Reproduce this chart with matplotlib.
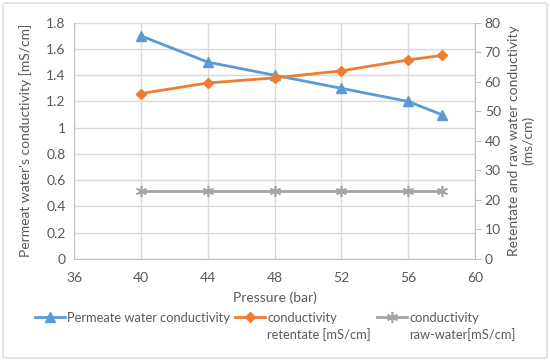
import numpy as np
import matplotlib.pyplot as plt
from matplotlib.patches import FancyBboxPatch

# data
pressure = [40, 44, 48, 52, 56, 58]
permeate = [1.7, 1.5, 1.4, 1.3, 1.2, 1.1]
retentate = [56.0, 59.6, 61.3, 63.7, 67.4, 68.9]
raw_water = [23.1, 23.1, 23.1, 23.1, 23.1, 23.1]

plt.rcParams['font.family'] = ['Lato', 'DejaVu Sans']
txt = '#595959'
grid = '#d9d9d9'
fs = 10
lfs = 9.3

fig = plt.figure(figsize=(5.5, 3.61), dpi=100)
ax = fig.add_axes([74/550, 1-259/361, (475-74)/550, (259-22.7)/361])
ax2 = ax.twinx()

l1, = ax.plot(pressure, permeate, color='#5b9bd5', lw=2, marker='^', ms=7,
              label='Permeate water conductivity')
l2, = ax2.plot(pressure, retentate, color='#ed7d31', lw=2, marker='D', ms=5,
               label='conductivity')
l3, = ax2.plot(pressure, raw_water, color='#a5a5a5', lw=2, marker=(6, 2, 0), ms=8,
               mew=1.2, label='conductivity')

ax.set_xlim(36, 60)
ax.set_xticks(range(36, 61, 4))
ax.set_ylim(0, 1.8)
ax.set_yticks(np.arange(0, 1.81, 0.2))
ax.set_yticklabels(['0', '0.2', '0.4', '0.6', '0.8', '1', '1.2', '1.4', '1.6', '1.8'])
ax2.set_ylim(0, 80)
ax2.set_yticks(range(0, 81, 10))

ax.grid(True, color=grid, lw=1)
ax.set_axisbelow(True)
for a in (ax, ax2):
    for s in a.spines.values():
        s.set_visible(False)
ax.spines['bottom'].set_visible(True)
ax.spines['bottom'].set_color('#bfbfbf')
ax.spines['left'].set_visible(True)
ax.spines['left'].set_color('#bfbfbf')
ax2.spines['right'].set_visible(True)
ax2.spines['right'].set_color('#bfbfbf')

ax.tick_params(axis='both', length=0, labelsize=fs, colors=txt, pad=6)
ax.tick_params(axis='x', pad=9)
ax2.tick_params(axis='y', length=4, color='#bfbfbf', labelsize=fs, colors=txt, pad=3)

ax.set_ylabel("Permeat water's conductivity [mS/cm]", fontsize=fs, color=txt, labelpad=10)
ax2.set_ylabel("Retentate and raw water conductivity\n(ms/cm)", fontsize=fs,
               color=txt, labelpad=5, linespacing=1.2)
ax2.yaxis.label.set_horizontalalignment('center')
ax.set_xlabel('Pressure (bar)', fontsize=fs, color=txt, labelpad=6)

# one legend per series, placed like the reference
legs = []
for line, x in zip([l1, l2, l3], [35, 235, 377]):
    lg = fig.legend(handles=[line], loc='center left', bbox_to_anchor=(x/550, 1-318/361),
                    frameon=False, fontsize=lfs, labelcolor=txt, handlelength=2.3,
                    handletextpad=0.2, borderpad=0, borderaxespad=0)
    legs.append(lg)

# second lines of the wrapped legend labels
fig.canvas.draw()
for lg, extra in zip(legs[1:], ['retentate [mS/cm]', 'raw-water[mS/cm]']):
    bb = lg.get_texts()[0].get_window_extent()
    fig.text(bb.x0 / fig.bbox.width, (bb.y0 - 17) / fig.bbox.height, extra,
             fontsize=lfs, color=txt, ha='left', va='bottom')

border = FancyBboxPatch((3/550, 3/361), 544/550, 355/361, boxstyle='round,pad=0,rounding_size=0.005',
                        transform=fig.transFigure, fill=False, ec='#d9d9d9', lw=1)
fig.patches.append(border)

fig.savefig('out.png', dpi=100)
